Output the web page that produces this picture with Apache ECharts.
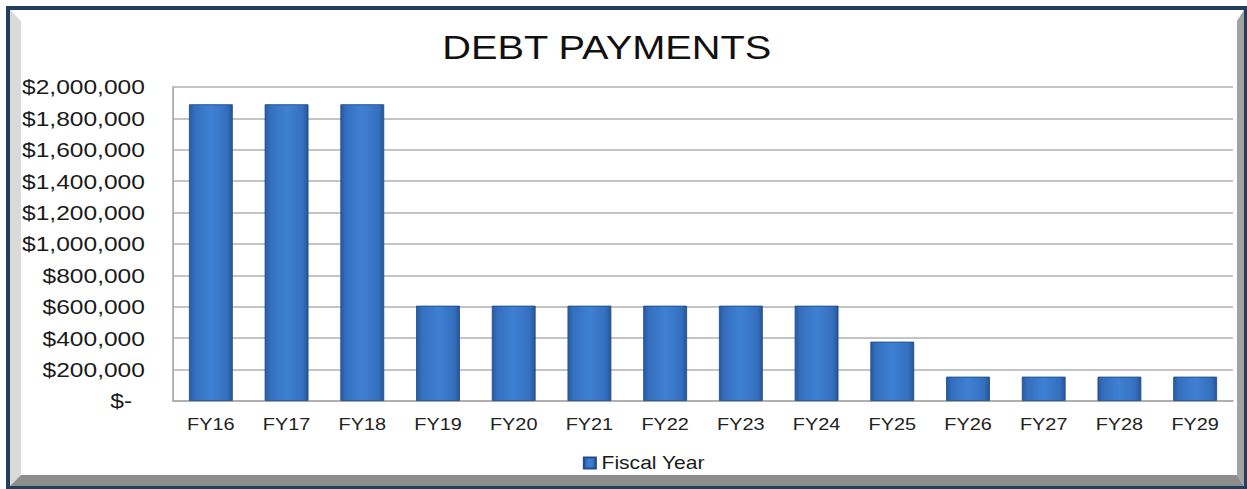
<!DOCTYPE html>
<html>
<head>
<meta charset="utf-8">
<script src="https://cdn.jsdelivr.net/npm/echarts@6/dist/echarts.min.js"></script>
<style>
  html, body { margin: 0; padding: 0; background: #ffffff; overflow: hidden; }
  #wrap { width: 1247px; height: 489px; overflow: hidden; position: relative; }
  #chart { width: 1066px; height: 489px; transform-origin: 0 0; transform: scaleX(1.16979); }
</style>
</head>
<body>
<div id="wrap"><div id="chart"></div></div>
<script>
// ---- data ----
const categories = ['FY16','FY17','FY18','FY19','FY20','FY21','FY22','FY23','FY24','FY25','FY26','FY27','FY28','FY29'];
const payments   = [1890000,1890000,1890000,607000,607000,607000,607000,607000,607000,378000,155000,155000,155000,155000];
const seriesName = 'Fiscal Year';
const titleText  = 'DEBT PAYMENTS';
const yMin = 0, yMax = 2000000, yStep = 200000;
const zeroLabel = '$-';

// ---- layout helpers (picture x -> chart x, chart is stretched horizontally by CSS) ----
const S = 1247 / 1066;
const px = x => x / S;
const FONT = "'Liberation Sans', Arial, sans-serif";

const barGradient = new echarts.graphic.LinearGradient(0, 0, 1, 0, [
  { offset: 0,    color: '#285aa0' },
  { offset: 0.12, color: '#346fbe' },
  { offset: 0.5,  color: '#3f80d3' },
  { offset: 0.88, color: '#346fbe' },
  { offset: 1,    color: '#265598' }
]);

const frame = [
  { type: 'rect', z: -10, shape: { x: px(6), y: 6, width: px(1247) - px(6), height: 483 }, style: { fill: '#233f5e' } },
  { type: 'rect', z: -9, shape: { x: px(10), y: 10, width: px(1244) - px(10), height: 476 }, style: { fill: '#ffffff' } },
  { type: 'polygon', z: -8, shape: { points: [[px(10),10],[px(21),21],[px(21),475],[px(10),486]] }, style: { fill: '#dadada' } },
  { type: 'polygon', z: -8, shape: { points: [[px(1244),10],[px(1237),21],[px(1237),475],[px(1244),486]] }, style: { fill: '#a2a2a2' } },
  { type: 'polygon', z: -8, shape: { points: [[px(10),486],[px(21),475],[px(1237),475],[px(1244),486]] }, style: { fill: '#8d8d8d' } }
];

const chart = echarts.init(document.getElementById('chart'), null, { renderer: 'svg' });
chart.setOption({
  animation: false,
  backgroundColor: 'transparent',
  graphic: frame,
  title: {
    text: titleText,
    left: 373,
    top: 26,
    textStyle: { fontFamily: FONT, fontSize: 34, fontWeight: 'normal', color: '#111111' }
  },
  legend: {
    data: [seriesName],
    left: px(577),
    top: 449,
    icon: 'rect',
    itemWidth: 10,
    itemHeight: 11,
    textStyle: { fontFamily: FONT, fontSize: 18, color: '#1a1a1a' }
  },
  grid: {
    left: px(173),
    top: 87,
    width: px(1233) - px(173),
    height: 314
  },
  xAxis: {
    type: 'category',
    data: categories,
    axisTick: { show: false },
    axisLine: { show: true, lineStyle: { color: '#a8a8a8', width: 1.5 } },
    axisLabel: { margin: 15, fontFamily: FONT, fontSize: 17, color: '#222222' },
    splitLine: { show: false }
  },
  yAxis: {
    type: 'value',
    min: yMin,
    max: yMax,
    interval: yStep,
    axisTick: { show: false },
    axisLine: { show: true, lineStyle: { color: '#a8a8a8', width: 1.5 } },
    splitLine: { show: true, lineStyle: { color: '#b0b0b0', width: 1.5 } },
    axisLabel: {
      margin: 24,
      fontFamily: FONT,
      fontSize: 21,
      color: '#1a1a1a',
      formatter: v => v === 0 ? '{z|' + zeroLabel + '}' : '$' + v.toLocaleString('en-US'),
      rich: { z: { fontFamily: FONT, fontSize: 21, color: '#1a1a1a', padding: [0, 11, 0, 0] } }
    }
  },
  series: [{
    name: seriesName,
    type: 'bar',
    data: payments,
    barWidth: '58%',
    itemStyle: {
      color: barGradient,
      borderColor: '#224f8a',
      borderWidth: 0.8
    }
  }]
});
</script>
</body>
</html>
